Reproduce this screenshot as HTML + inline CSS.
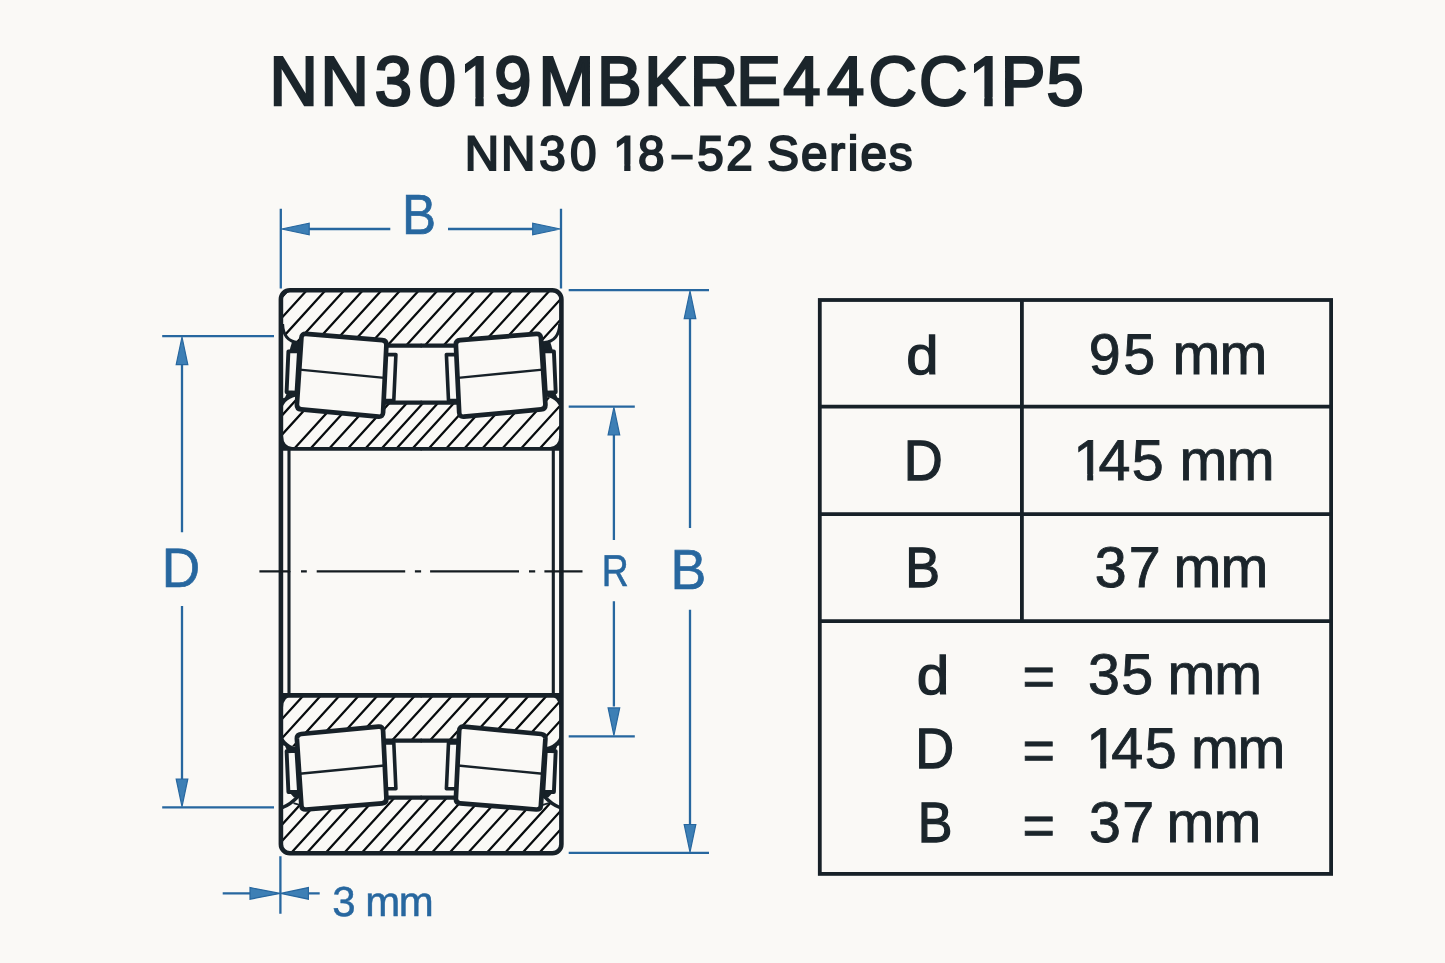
<!DOCTYPE html>
<html lang="en"><head><meta charset="utf-8"><title>NN3019MBKRE44CC1P5 – NN30 18–52 Series</title>
<style>html,body{margin:0;padding:0;background:#faf9f6;}body{width:1445px;height:963px;overflow:hidden;}svg{display:block;font-family:'Liberation Sans', Arial, Helvetica, sans-serif;text-rendering:geometricPrecision;will-change:transform;}</style>
</head><body>
<svg width="1445" height="963" viewBox="0 0 1445 963">
<rect width="1445" height="963" fill="#faf9f6"/>
<text transform="scale(0.9650,1.0000)" x="279.34 332.24 388.33 434.00 476.36 512.25 558.08 618.63 667.57 714.86 762.98 811.62 857.02 900.04 952.45 1003.81 1036.98 1084.44" y="104.50" font-size="69.40" fill="#1b252b" stroke="#1b252b" stroke-width="2.5" stroke-linejoin="miter" stroke-miterlimit="2.5">NN3019MBKRE44CC1P5</text>
<path d="M461.93,97.05 H475.25 V107.25 H461.93 Z M483.71,97.05 H496.49 V107.25 H483.71 Z" fill="#faf9f6"/>
<path d="M970.92,97.05 H984.24 V107.25 H970.92 Z M992.70,97.05 H1004.26 V107.25 H992.70 Z" fill="#faf9f6"/>
<text transform="scale(0.9800,1.0000)" x="474.25 511.35 550.32 581.76 606.50 625.78 650.98 686.21 711.53 741.04 767.45 782.85 817.31 846.30 865.14 878.20 907.01" y="170.20 170.20 170.20 170.20 170.20 170.20 170.20 165.90 170.20 170.20 170.20 170.20 170.20 170.20 170.20 170.20 170.20" font-size="48.60" fill="#1b252b" stroke="#1b252b" stroke-width="2.0" stroke-linejoin="miter" stroke-miterlimit="2.5">NN30 18<tspan font-size="35.00" stroke-width="2.2">–</tspan>52 Series</text>
<path d="M614.28,164.55 H624.22 V172.70 H614.28 Z M630.46,164.55 H640.01 V172.70 H630.46 Z" fill="#faf9f6"/>
<defs>
<clipPath id="hOT"><path d="M281,290 H561.3 V324 C560.9,334 557.4,341.5 545,342.6 L456,346 H386 L298,342.6 C286.5,341.5 283,334 281,324 Z"/></clipPath>
<clipPath id="hIT"><path d="M281,449 V412 C282.6,404 287,398.5 296,396.4 L298,402 H544 L546.3,396.4 C555.3,398.5 559.7,404 561.3,412 V449 Z"/></clipPath>
<clipPath id="hOB"><path d="M281,853.4 H561.3 V806.8 C555.3,804.9 550.3,801.4 543.8,795.8 L456,797.4 H386 L298.5,795.8 C293,801.4 288,804.9 281,806.8 Z"/></clipPath>
<clipPath id="hIB"><path d="M281,694.4 V731.4 C282.6,739.4 287,744.9 296,747.0 L298,741.4 H544 L546.3,747.0 C555.3,744.9 559.7,739.4 561.3,731.4 V694.4 Z"/></clipPath>
</defs>
<g clip-path="url(#hOT)"><path d="M233.8,350.0 L290.2,288.0 M252.5,350.0 L308.9,288.0 M271.2,350.0 L327.6,288.0 M289.9,350.0 L346.3,288.0 M308.6,350.0 L365.0,288.0 M327.3,350.0 L383.7,288.0 M346.0,350.0 L402.4,288.0 M364.7,350.0 L421.1,288.0 M383.4,350.0 L439.8,288.0 M402.1,350.0 L458.5,288.0 M420.8,350.0 L477.2,288.0 M439.5,350.0 L495.9,288.0 M458.2,350.0 L514.6,288.0 M476.9,350.0 L533.3,288.0 M495.6,350.0 L552.0,288.0 M514.3,350.0 L570.7,288.0 M533.0,350.0 L589.4,288.0 M551.7,350.0 L608.1,288.0 M570.4,350.0 L626.8,288.0" fill="none" stroke="#070b0d" stroke-width="2.25"/></g>
<g clip-path="url(#hIT)"><path d="M248.7,452.0 L300.6,395.0 M266.2,452.0 L318.1,395.0 M291.2,452.0 L343.1,395.0 M307.4,452.0 L359.3,395.0 M326.1,452.0 L378.0,395.0 M344.8,452.0 L396.7,395.0 M362.3,452.0 L414.2,395.0 M378.5,452.0 L430.4,395.0 M393.4,452.0 L445.3,395.0 M409.4,452.0 L461.3,395.0 M425.6,452.0 L477.5,395.0 M443.1,452.0 L495.0,395.0 M461.2,452.0 L513.1,395.0 M479.2,452.0 L531.1,395.0 M499.2,452.0 L551.1,395.0 M517.9,452.0 L569.8,395.0 M536.6,452.0 L588.5,395.0 M554.7,452.0 L606.6,395.0 M572.7,452.0 L624.6,395.0 M590.7,452.0 L642.6,395.0 M608.7,452.0 L660.6,395.0" fill="none" stroke="#070b0d" stroke-width="2.25"/></g>
<g clip-path="url(#hIB)"><path d="M197.7,750.0 L250.5,692.0 M216.4,750.0 L269.2,692.0 M235.1,750.0 L287.9,692.0 M253.8,750.0 L306.6,692.0 M271.3,750.0 L324.1,692.0 M290.0,750.0 L342.8,692.0 M309.3,750.0 L362.1,692.0 M328.0,750.0 L380.8,692.0 M346.1,750.0 L398.9,692.0 M365.4,750.0 L418.2,692.0 M383.4,750.0 L436.2,692.0 M402.6,750.0 L455.4,692.0 M421.3,750.0 L474.1,692.0 M440.6,750.0 L493.4,692.0 M459.9,750.0 L512.7,692.0 M479.3,750.0 L532.1,692.0 M497.3,750.0 L550.1,692.0 M515.7,750.0 L568.5,692.0 M533.7,750.0 L586.5,692.0" fill="none" stroke="#070b0d" stroke-width="2.25"/></g>
<g clip-path="url(#hOB)"><path d="M221.4,856.0 L277.9,794.0 M238.4,856.0 L294.9,794.0 M253.4,856.0 L309.9,794.0 M268.4,856.0 L324.9,794.0 M288.4,856.0 L344.9,794.0 M304.1,856.0 L360.5,794.0 M322.8,856.0 L379.2,794.0 M341.4,856.0 L397.9,794.0 M358.9,856.0 L415.4,794.0 M376.3,856.0 L432.8,794.0 M393.8,856.0 L450.3,794.0 M411.4,856.0 L467.9,794.0 M428.9,856.0 L485.4,794.0 M446.6,856.0 L503.0,794.0 M465.2,856.0 L521.7,794.0 M483.9,856.0 L540.4,794.0 M502.1,856.0 L558.5,794.0 M519.6,856.0 L576.0,794.0 M536.4,856.0 L592.8,794.0 M553.5,856.0 L609.9,794.0 M571.5,856.0 L627.9,794.0 M589.5,856.0 L645.9,794.0 M607.5,856.0 L663.9,794.0" fill="none" stroke="#070b0d" stroke-width="2.25"/></g>
<g><path d="M282.6,324 C283,334 286.5,341.5 298,342.6" fill="none" stroke="#172128" stroke-width="3.0"/>
<path d="M292,342 L300,341 L300,350.5 L289.5,350.5 Z" fill="#172128"/>
<path d="M288.4,351.4 L299,351.4 L296.5,392.6 L286.6,392.2 Z" fill="#faf9f6" stroke="#172128" stroke-width="3.9" stroke-linejoin="round"/>
<path d="M281,412 C282.6,404 287,398.5 296,396.4 L296,393 L287,393 L285,397.5 L281,399 Z" fill="#172128"/>
<path d="M384,354.6 L395.9,354.6 L393.8,400.5 L382,400.5 Z" fill="#faf9f6" stroke="#172128" stroke-width="3.6" stroke-linejoin="round"/>
<path d="M386,345.7 H421.65" fill="none" stroke="#172128" stroke-width="4.3"/>
<path d="M383,402.7 H421.65" fill="none" stroke="#172128" stroke-width="4.3"/>
<path d="M280,448.9 H421.65" fill="none" stroke="#172128" stroke-width="3.7"/>
<path d="M281,436 L283.0,436 Q283.4,446.6 293,447.3 L293,450 L281,450 Z" fill="#172128"/>
<path d="M289,449 V572.2" fill="none" stroke="#172128" stroke-width="3.1"/>
<path d="M306.1,333.9 L382.1,340.1 Q386.6,340.4 386.4,344.9 L383.1,412.5 Q382.9,417.1 378.4,416.7 L301.2,409.4 Q296.7,409.0 296.9,404.5 L301.4,337.9 Q301.6,333.6 306.1,333.9 Z" fill="#faf9f6" stroke="#172128" stroke-width="4.7" stroke-linejoin="round"/>
<path d="M299.6,369.6 L384.4,377.9" fill="none" stroke="#172128" stroke-width="2.4"/></g>
<g transform="translate(842.3,0) scale(-1,1)"><path d="M282.6,324 C283,334 286.5,341.5 298,342.6" fill="none" stroke="#172128" stroke-width="3.0"/>
<path d="M292,342 L300,341 L300,350.5 L289.5,350.5 Z" fill="#172128"/>
<path d="M288.4,351.4 L299,351.4 L296.5,392.6 L286.6,392.2 Z" fill="#faf9f6" stroke="#172128" stroke-width="3.9" stroke-linejoin="round"/>
<path d="M281,412 C282.6,404 287,398.5 296,396.4 L296,393 L287,393 L285,397.5 L281,399 Z" fill="#172128"/>
<path d="M384,354.6 L395.9,354.6 L393.8,400.5 L382,400.5 Z" fill="#faf9f6" stroke="#172128" stroke-width="3.6" stroke-linejoin="round"/>
<path d="M386,345.7 H421.65" fill="none" stroke="#172128" stroke-width="4.3"/>
<path d="M383,402.7 H421.65" fill="none" stroke="#172128" stroke-width="4.3"/>
<path d="M280,448.9 H421.65" fill="none" stroke="#172128" stroke-width="3.7"/>
<path d="M281,436 L283.0,436 Q283.4,446.6 293,447.3 L293,450 L281,450 Z" fill="#172128"/>
<path d="M289,449 V572.2" fill="none" stroke="#172128" stroke-width="3.1"/>
<path d="M306.1,333.9 L382.1,340.1 Q386.6,340.4 386.4,344.9 L383.1,412.5 Q382.9,417.1 378.4,416.7 L301.2,409.4 Q296.7,409.0 296.9,404.5 L301.4,337.9 Q301.6,333.6 306.1,333.9 Z" fill="#faf9f6" stroke="#172128" stroke-width="4.7" stroke-linejoin="round"/>
<path d="M299.6,369.6 L384.4,377.9" fill="none" stroke="#172128" stroke-width="2.4"/></g>
<g transform="translate(0,1143.4) scale(1,-1)"><path d="M282,335.6 C288,338 293,341.5 298.5,347.4" fill="none" stroke="#172128" stroke-width="3.3"/>
<path d="M293.5,340.2 L299.5,338.6" fill="none" stroke="#172128" stroke-width="1.8"/>
<path d="M294,346 L300,346 L300,351 L289.5,351 Z" fill="#172128"/>
<path d="M288.4,351.4 L299,351.4 L296.5,392.6 L286.6,392.2 Z" fill="#faf9f6" stroke="#172128" stroke-width="3.9" stroke-linejoin="round"/>
<path d="M281,412 C282.6,404 287,398.5 296,396.4 L296,393 L287,393 L285,397.5 L281,399 Z" fill="#172128"/>
<path d="M384,354.6 L395.9,354.6 L393.8,400.5 L382,400.5 Z" fill="#faf9f6" stroke="#172128" stroke-width="3.6" stroke-linejoin="round"/>
<path d="M386,345.7 H421.65" fill="none" stroke="#172128" stroke-width="4.3"/>
<path d="M383,402.7 H421.65" fill="none" stroke="#172128" stroke-width="4.3"/>
<path d="M280,448.0 H421.65" fill="none" stroke="#172128" stroke-width="4.7"/>
<path d="M281,436 L283.0,436 Q283.4,446.6 293,447.3 L293,450 L281,450 Z" fill="#172128"/>
<path d="M289,449 V572.2" fill="none" stroke="#172128" stroke-width="3.1"/>
<path d="M306.1,333.9 L382.1,340.1 Q386.6,340.4 386.4,344.9 L383.1,412.5 Q382.9,417.1 378.4,416.7 L301.2,409.4 Q296.7,409.0 296.9,404.5 L301.4,337.9 Q301.6,333.6 306.1,333.9 Z" fill="#faf9f6" stroke="#172128" stroke-width="4.7" stroke-linejoin="round"/>
<path d="M299.6,369.6 L384.4,377.9" fill="none" stroke="#172128" stroke-width="2.4"/></g>
<g transform="translate(842.3,1143.4) scale(-1,-1)"><path d="M282,335.6 C288,338 293,341.5 298.5,347.4" fill="none" stroke="#172128" stroke-width="3.3"/>
<path d="M293.5,340.2 L299.5,338.6" fill="none" stroke="#172128" stroke-width="1.8"/>
<path d="M294,346 L300,346 L300,351 L289.5,351 Z" fill="#172128"/>
<path d="M288.4,351.4 L299,351.4 L296.5,392.6 L286.6,392.2 Z" fill="#faf9f6" stroke="#172128" stroke-width="3.9" stroke-linejoin="round"/>
<path d="M281,412 C282.6,404 287,398.5 296,396.4 L296,393 L287,393 L285,397.5 L281,399 Z" fill="#172128"/>
<path d="M384,354.6 L395.9,354.6 L393.8,400.5 L382,400.5 Z" fill="#faf9f6" stroke="#172128" stroke-width="3.6" stroke-linejoin="round"/>
<path d="M386,345.7 H421.65" fill="none" stroke="#172128" stroke-width="4.3"/>
<path d="M383,402.7 H421.65" fill="none" stroke="#172128" stroke-width="4.3"/>
<path d="M280,448.0 H421.65" fill="none" stroke="#172128" stroke-width="4.7"/>
<path d="M281,436 L283.0,436 Q283.4,446.6 293,447.3 L293,450 L281,450 Z" fill="#172128"/>
<path d="M289,449 V572.2" fill="none" stroke="#172128" stroke-width="3.1"/>
<path d="M306.1,333.9 L382.1,340.1 Q386.6,340.4 386.4,344.9 L383.1,412.5 Q382.9,417.1 378.4,416.7 L301.2,409.4 Q296.7,409.0 296.9,404.5 L301.4,337.9 Q301.6,333.6 306.1,333.9 Z" fill="#faf9f6" stroke="#172128" stroke-width="4.7" stroke-linejoin="round"/>
<path d="M299.6,369.6 L384.4,377.9" fill="none" stroke="#172128" stroke-width="2.4"/></g>
<rect x="280.9" y="290.2" width="280.5" height="563.0" rx="9" ry="9" fill="none" stroke="#172128" stroke-width="4.6"/>
<path d="M259.4,571.4 H289.8 M301,571.4 H306.8 M316.7,571.4 H405.2 M414.9,571.4 H421.1 M430.1,571.4 H519 M529,571.4 H535.2 M544.4,571.4 H582.5" fill="none" stroke="#151c20" stroke-width="2.2"/>
<path d="M280.8,208.7 L280.8,288.5 M561,208.7 L561,288.5 M309,229 L390.3,229 M448,229 L534,229 M162.2,336.2 L274,336.2 M162.2,807.4 L274,807.4 M182,364 L182,532.2 M182,606 L182,779 M568.7,406.6 L634.8,406.6 M568.7,736.3 L634.8,736.3 M613.9,434 L613.9,539.9 M613.9,601.2 L613.9,706.5 M568.7,290.2 L709,290.2 M568.7,852.9 L709,852.9 M690,318 L690,528.1 M690,609.7 L690,825 M280.4,856.2 L280.4,913.8 M222.7,893.4 L250.5,893.4 M308,893.4 L319.7,893.4" fill="none" stroke="#27679f" stroke-width="2.3"/>
<path d="M281.6,229.0 L309.2,223.2 L309.2,234.8 Z M560.3,229.0 L532.7,234.8 L532.7,223.2 Z M182.0,337.0 L187.8,364.6 L176.2,364.6 Z M182.0,806.6 L176.2,779.0 L187.8,779.0 Z M613.9,407.4 L619.7,435.0 L608.1,435.0 Z M613.9,735.5 L608.1,707.9 L619.7,707.9 Z M690.0,291.0 L695.8,318.6 L684.2,318.6 Z M690.0,852.1 L684.2,824.5 L695.8,824.5 Z M280.0,893.4 L250.0,899.2 L250.0,887.6 Z M280.8,893.4 L308.4,887.6 L308.4,899.2 Z" fill="#3d7fb5" stroke="#27679f" stroke-width="1.2" stroke-linejoin="miter"/>
<text transform="scale(0.9025,1.0000)" x="445.37" y="234.00" font-size="56.60" fill="#27679f" stroke="#27679f" stroke-width="0.7" stroke-linejoin="miter" stroke-miterlimit="2.5">B</text>
<text transform="scale(0.9579,1.0000)" x="168.87" y="587.00" font-size="55.50" fill="#27679f" stroke="#27679f" stroke-width="0.7" stroke-linejoin="miter" stroke-miterlimit="2.5">D</text>
<text transform="scale(0.8382,1.0000)" x="718.00" y="585.60" font-size="44.50" fill="#27679f" stroke="#27679f" stroke-width="0.6" stroke-linejoin="miter" stroke-miterlimit="2.5">R</text>
<text transform="scale(0.9506,1.0000)" x="705.47" y="588.80" font-size="56.50" fill="#27679f" stroke="#27679f" stroke-width="0.7" stroke-linejoin="miter" stroke-miterlimit="2.5">B</text>
<text x="332.20 353.54 365.36 398.71" y="915.70" font-size="42.00" fill="#27679f" stroke="#27679f" stroke-width="0.5" stroke-linejoin="miter" stroke-miterlimit="2.5">3 mm</text>
<rect x="819.8" y="300" width="511.29999999999995" height="573.9" fill="none" stroke="#172128" stroke-width="3.8"/>
<path d="M819.8,406.6 H1331.1 M819.8,514.2 H1331.1 M819.8,621.2 H1331.1 M1021.9,300 V621.2" fill="none" stroke="#172128" stroke-width="3.8"/>
<text transform="scale(1.0175,0.9450)" x="890.56" y="395.77" font-size="57.00" fill="#1b252b" stroke="#1b252b" stroke-width="1.3" stroke-linejoin="miter" stroke-miterlimit="2.5">d</text>
<text x="1088.70 1123.22 1153.62 1172.44 1219.59" y="373.80" font-size="57.40" fill="#1b252b" stroke="#1b252b" stroke-width="0.9" stroke-linejoin="miter" stroke-miterlimit="2.5">95 mm</text>
<text transform="scale(0.9475,1.0000)" x="953.75" y="479.80" font-size="57.00" fill="#1b252b" stroke="#1b252b" stroke-width="1.3" stroke-linejoin="miter" stroke-miterlimit="2.5">D</text>
<text x="1073.23 1098.62 1131.82 1164.88 1179.54 1226.79" y="479.70" font-size="57.40" fill="#1b252b" stroke="#1b252b" stroke-width="0.9" stroke-linejoin="miter" stroke-miterlimit="2.5">145 mm</text>
<path d="M1075.55,473.94 H1087.19 V481.65 H1075.55 Z M1093.20,473.94 H1104.39 V481.65 H1093.20 Z" fill="#faf9f6"/>
<text transform="scale(0.9126,1.0000)" x="992.05" y="586.90" font-size="57.00" fill="#1b252b" stroke="#1b252b" stroke-width="1.3" stroke-linejoin="miter" stroke-miterlimit="2.5">B</text>
<text x="1094.71 1128.85 1157.36 1173.49 1220.39" y="586.80" font-size="57.40" fill="#1b252b" stroke="#1b252b" stroke-width="0.9" stroke-linejoin="miter" stroke-miterlimit="2.5">37 mm</text>
<text transform="scale(1.0253,0.9450)" x="894.11" y="734.39" font-size="57.00" fill="#1b252b" stroke="#1b252b" stroke-width="1.3" stroke-linejoin="miter" stroke-miterlimit="2.5">d</text>
<text transform="scale(0.9699,1.0000)" x="1054.34" y="696.40" font-size="57.40" fill="#1b252b" stroke="#1b252b" stroke-width="0.9" stroke-linejoin="miter" stroke-miterlimit="2.5">=</text>
<text x="1088.12 1121.17 1151.16 1167.44 1214.34" y="694.00" font-size="57.40" fill="#1b252b" stroke="#1b252b" stroke-width="0.9" stroke-linejoin="miter" stroke-miterlimit="2.5">35 mm</text>
<text transform="scale(0.9446,1.0000)" x="969.04" y="768.10" font-size="57.00" fill="#1b252b" stroke="#1b252b" stroke-width="1.3" stroke-linejoin="miter" stroke-miterlimit="2.5">D</text>
<text transform="scale(0.9699,1.0000)" x="1054.34" y="770.20" font-size="57.40" fill="#1b252b" stroke="#1b252b" stroke-width="0.9" stroke-linejoin="miter" stroke-miterlimit="2.5">=</text>
<text x="1086.23 1111.26 1144.72 1176.50 1190.89 1237.49" y="768.10" font-size="57.40" fill="#1b252b" stroke="#1b252b" stroke-width="0.9" stroke-linejoin="miter" stroke-miterlimit="2.5">145 mm</text>
<path d="M1088.55,762.35 H1100.19 V770.05 H1088.55 Z M1106.20,762.35 H1117.39 V770.05 H1106.20 Z" fill="#faf9f6"/>
<text transform="scale(0.9126,1.0000)" x="1005.53" y="842.30" font-size="57.00" fill="#1b252b" stroke="#1b252b" stroke-width="1.3" stroke-linejoin="miter" stroke-miterlimit="2.5">B</text>
<text transform="scale(0.9699,1.0000)" x="1054.34" y="844.80" font-size="57.40" fill="#1b252b" stroke="#1b252b" stroke-width="0.9" stroke-linejoin="miter" stroke-miterlimit="2.5">=</text>
<text x="1089.06 1122.25 1150.76 1166.54 1213.39" y="842.30" font-size="57.40" fill="#1b252b" stroke="#1b252b" stroke-width="0.9" stroke-linejoin="miter" stroke-miterlimit="2.5">37 mm</text>
</svg></body></html>
